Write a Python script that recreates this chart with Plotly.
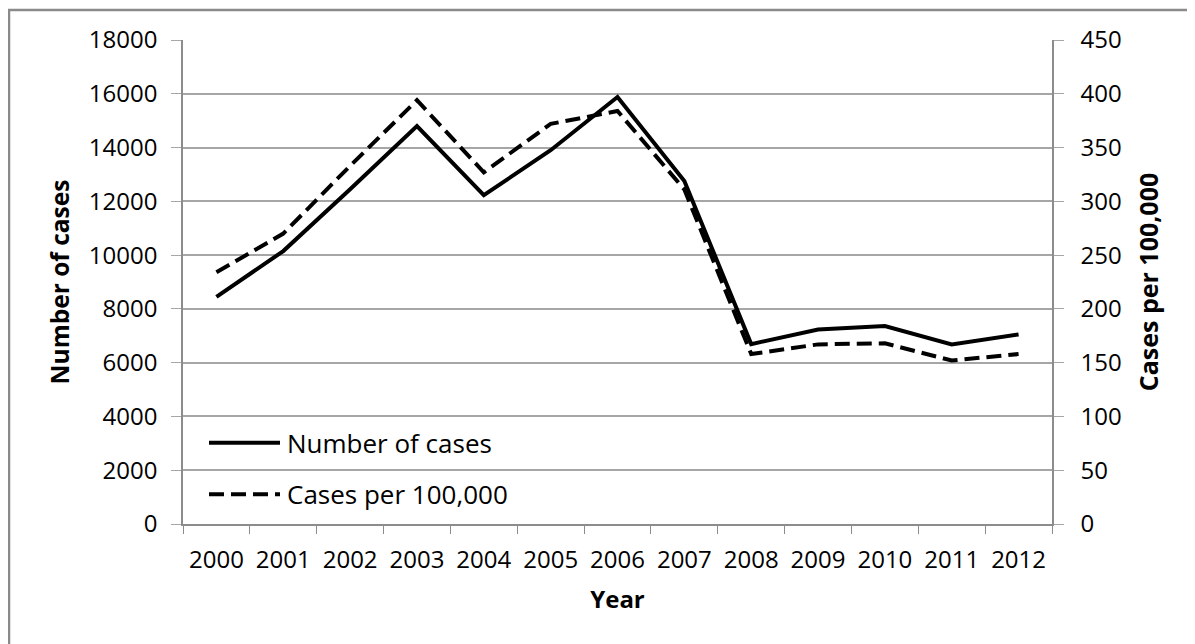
import plotly.graph_objects as go

years = ["2000", "2001", "2002", "2003", "2004", "2005", "2006",
         "2007", "2008", "2009", "2010", "2011", "2012"]
number_of_cases = [8450, 10150, 12450, 14800, 12230, 13900, 15880,
                   12760, 6690, 7230, 7360, 6680, 7050]
cases_per_100k = [234, 270, 333, 394, 327, 372, 384,
                  311, 158, 167, 168, 152, 158]
left_ticks = [0, 2000, 4000, 6000, 8000, 10000, 12000, 14000, 16000, 18000]
right_ticks = [0, 50, 100, 150, 200, 250, 300, 350, 400, 450]

FONT = "Open Sans, Lato, sans-serif"
GRID = "#a6a6a6"
AXIS = "#8c8c8c"
DASH = "15px,7px"

# page offset of the plot div (default body margin)
OFF = 8
PAGE_W, PAGE_H = 1195, 644
# plot area in page pixels
L, R, T, B = 183, 1052, 40, 524
W, H = PAGE_W - OFF, PAGE_H - OFF

def px_x(p):
    return (p - L) / (R - L)

def px_y(p):
    return (B - p) / (B - T)

fig = go.Figure()
fig.add_trace(go.Scatter(x=years, y=number_of_cases, mode="lines",
                         name="Number of cases",
                         line=dict(color="black", width=4),
                         showlegend=False))
fig.add_trace(go.Scatter(x=years, y=cases_per_100k, mode="lines",
                         name="Cases per 100,000", yaxis="y2",
                         line=dict(color="black", width=4, dash=DASH),
                         showlegend=False))

# outer chart frame
fig.add_shape(type="rect", xref="paper", yref="paper",
              x0=px_x(9), x1=px_x(1215), y0=px_y(670), y1=px_y(10),
              line=dict(color="#8a8a8a", width=2.5), layer="below")

# legend (inside plot, bottom-left)
legend_rows = [("Number of cases", "solid", 442.7),
               ("Cases per 100,000", DASH, 494.3)]
for label, dash, ypx in legend_rows:
    fig.add_shape(type="line", xref="paper", yref="paper",
                  x0=px_x(209), x1=px_x(280), y0=px_y(ypx), y1=px_y(ypx),
                  line=dict(color="black", width=4, dash=dash))
    fig.add_annotation(xref="paper", yref="paper", x=px_x(285), y=px_y(ypx),
                       text=label, showarrow=False, xanchor="left",
                       yanchor="middle",
                       font=dict(family=FONT, size=26, color="black"))

fig.update_layout(
    width=W, height=H,
    margin=dict(l=L - OFF, r=PAGE_W - R, t=T - OFF, b=PAGE_H - B, pad=0),
    paper_bgcolor="white", plot_bgcolor="white",
    font=dict(family=FONT, color="black", size=24),
    xaxis=dict(type="category", range=[-0.5, len(years) - 0.5],
               tickson="boundaries", ticks="outside",
               ticklen=8, tickcolor=AXIS, showline=True, linecolor=AXIS,
               linewidth=1.5, showgrid=False, ticklabelstandoff=13,
               tickfont=dict(size=24),
               title=dict(text="<b>Year</b>", standoff=18,
                          font=dict(size=24))),
    yaxis=dict(range=[0, 18000], tickvals=left_ticks,
               ticktext=[str(v) for v in left_ticks],
               ticks="outside", ticklen=10, tickcolor=GRID,
               showline=True, linecolor=AXIS, linewidth=1.5,
               showgrid=True, gridcolor=GRID, gridwidth=1.5,
               zeroline=False, ticklabelstandoff=9,
               tickfont=dict(size=24),
               title=dict(text="<b>Number of cases</b>", standoff=12,
                          font=dict(size=24.5))),
    yaxis2=dict(range=[0, 450], tickvals=right_ticks,
                ticktext=[str(v) for v in right_ticks],
                overlaying="y", side="right",
                ticks="outside", ticklen=10, tickcolor=GRID,
                showline=True, linecolor=AXIS, linewidth=1.5,
                showgrid=False, zeroline=False, ticklabelstandoff=12,
                tickfont=dict(size=24),
                title=dict(text="<b>Cases per 100,000</b>", standoff=20,
                           font=dict(size=25))),
)

fig.write_html("out.html")
